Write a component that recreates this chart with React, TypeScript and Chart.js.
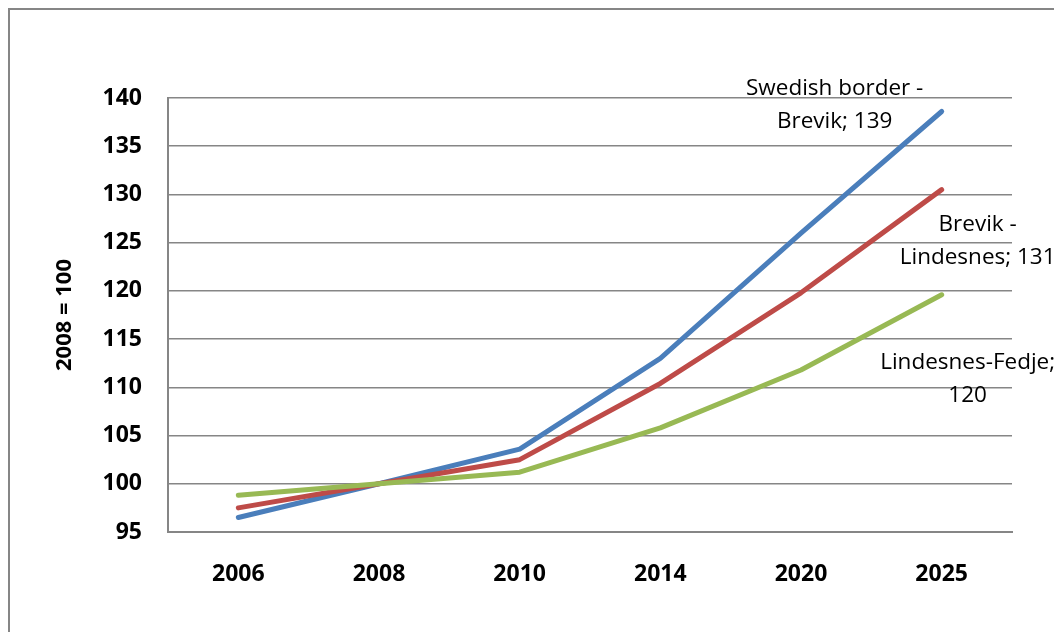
import { useEffect, useRef } from 'react';
import { Chart, registerables } from 'chart.js';

Chart.register(...registerables);

// Index values, 2008 = 100
const categories = ['2006', '2008', '2010', '2014', '2020', '2025'];
const seriesNames = ['Swedish border - Brevik', 'Brevik - Lindesnes', 'Lindesnes-Fedje'];
const swedishBorderBrevik = [96.5, 100, 103.6, 113.0, 126.0, 138.6];
const brevikLindesnes = [97.5, 100, 102.5, 110.4, 119.8, 130.5];
const lindesnesFedje = [98.8, 100, 101.2, 105.8, 111.8, 119.6];
const seriesColors = ['#4A7EBB', '#BE4B48', '#98B954'];
const yMin = 95;
const yMax = 140;
const yStep = 5;
const yTitle = '2008 = 100';

const FONT = "'Open Sans', 'Noto Sans', sans-serif";
const GRID = '#868686';

function wrapText(ctx: CanvasRenderingContext2D, text: string, maxWidth: number): string[] {
  const words = text.split(' ');
  const lines: string[] = [];
  let line = '';
  for (const w of words) {
    const trial = line ? line + ' ' + w : w;
    if (line && ctx.measureText(trial).width > maxWidth) {
      lines.push(line);
      line = w;
    } else {
      line = trial;
    }
  }
  if (line) lines.push(line);
  return lines;
}

// Draws "name; value" next to the last point of each series
const endLabels = {
  id: 'endLabels',
  afterDatasetsDraw(chart: any, _args: any, opts: any) {
    const ctx: CanvasRenderingContext2D = chart.ctx;
    ctx.save();
    ctx.font = opts.font;
    ctx.fillStyle = opts.color;
    ctx.textAlign = 'center';
    ctx.textBaseline = 'middle';
    chart.data.datasets.forEach((ds: any, i: number) => {
      const meta = chart.getDatasetMeta(i);
      const pt = meta.data[meta.data.length - 1];
      const value = ds.data[ds.data.length - 1];
      const lines = wrapText(ctx, `${ds.label}; ${Math.round(value)}`, opts.maxWidth);
      const [dx, dy] = opts.offsets[i];
      const cx = pt.x + dx;
      const cy = pt.y + dy;
      const span = (lines.length - 1) * opts.lineHeight;
      lines.forEach((l, k) => ctx.fillText(l, cx, cy - span / 2 + k * opts.lineHeight));
    });
    ctx.restore();
  },
};

export default function App() {
  const canvasRef = useRef<HTMLCanvasElement>(null);

  useEffect(() => {
    const canvas = canvasRef.current;
    if (!canvas) return;
    const values = [swedishBorderBrevik, brevikLindesnes, lindesnesFedje];
    const chart = new Chart(canvas, {
      type: 'line',
      data: {
        labels: categories,
        datasets: values.map((data, i) => ({
          label: seriesNames[i],
          data,
          borderColor: seriesColors[i],
          backgroundColor: seriesColors[i],
          borderWidth: 5,
          pointRadius: 0,
          tension: 0,
          borderCapStyle: 'round' as const,
          borderJoinStyle: 'round' as const,
          order: values.length - i,
        })),
      },
      options: {
        responsive: false,
        animation: false,
        devicePixelRatio: 1,
        layout: { padding: { top: 88, right: 50, bottom: 0, left: 0 } },
        plugins: {
          legend: { display: false },
          tooltip: { enabled: false },
          endLabels: {
            font: `22.5px ${FONT}`,
            color: '#000',
            maxWidth: 192,
            lineHeight: 33,
            offsets: [
              [-107, -6.5],
              [36, 51.5],
              [26, 84.5],
            ],
          },
        } as any,
        scales: {
          x: {
            offset: true,
            grid: { display: false, drawTicks: false },
            border: { display: true, color: GRID, width: 2 },
            ticks: {
              color: '#000',
              padding: 29,
              maxRotation: 0,
              font: { family: FONT, size: 23, weight: 'bold' },
            },
            afterFit(scale: any) {
              scale.height = 100;
            },
          },
          y: {
            min: yMin,
            max: yMax,
            grid: { color: GRID, lineWidth: 1.5, drawTicks: false },
            border: { display: true, color: GRID, width: 2 },
            ticks: {
              stepSize: yStep,
              color: '#000',
              padding: 26,
              font: { family: FONT, size: 23, weight: 'bold' },
            },
            title: {
              display: true,
              text: yTitle,
              color: '#000',
              font: { family: FONT, size: 22, weight: 'bold' },
              padding: { top: 42, bottom: 0 },
            },
            afterFit(scale: any) {
              scale.width = 158;
            },
          },
        },
      },
      plugins: [endLabels],
    });
    return () => chart.destroy();
  }, []);

  return (
    <div
      style={{
        width: 1054,
        height: 624,
        boxSizing: 'border-box',
        borderTop: `2px solid ${GRID}`,
        borderLeft: `2px solid ${GRID}`,
        background: '#fff',
      }}
    >
      <canvas ref={canvasRef} width={1052} height={622} style={{ display: 'block' }} />
    </div>
  );
}
